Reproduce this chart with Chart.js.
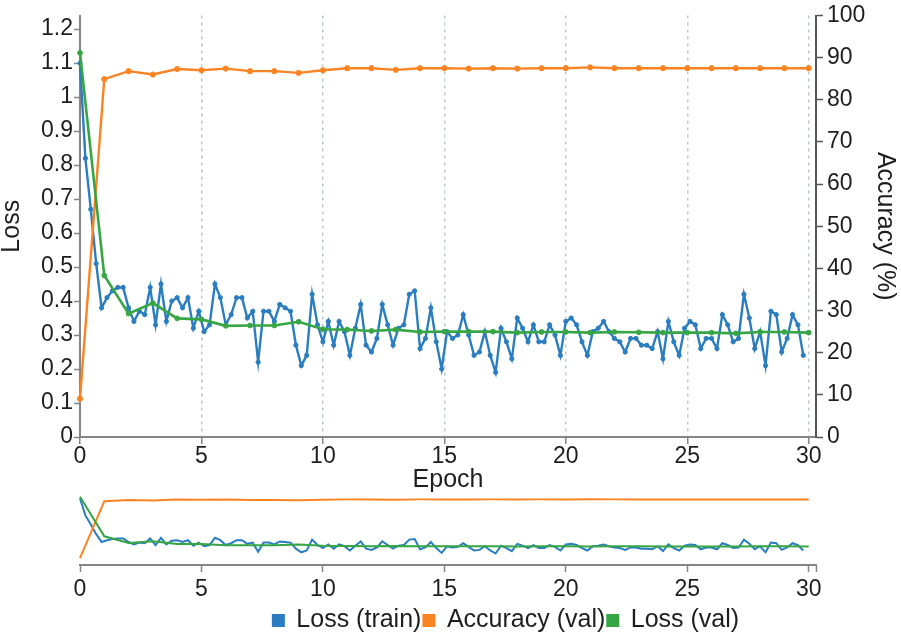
<!DOCTYPE html>
<html>
<head>
<meta charset="utf-8">
<title>Training curves</title>
<script src="https://cdn.jsdelivr.net/npm/chart.js@4.4.1/dist/chart.umd.min.js"></script>
<style>
  html, body { margin: 0; padding: 0; background: #fff; }
  #mainBox { position: absolute; left: 0; top: 0; width: 901px; height: 500px; }
  #navBox { position: absolute; left: 0; top: 480px; width: 901px; height: 163px; }
</style>
</head>
<body>
<div id="mainBox"><canvas id="mainChart"></canvas></div>
<div id="navBox"><canvas id="navChart"></canvas></div>
<script>
// values
var epochs = [0, 1, 2, 3, 4, 5, 6, 7, 8, 9, 10, 11, 12, 13, 14, 15, 16, 17, 18, 19, 20,
              21, 22, 23, 24, 25, 26, 27, 28, 29, 30];

var valAccuracy = [9.1, 84.9, 86.8, 86.0, 87.3, 87.0, 87.4, 86.8, 86.8, 86.4, 87.0,
                   87.5, 87.5, 87.1, 87.5, 87.5, 87.4, 87.5, 87.4, 87.5, 87.5,
                   87.7, 87.5, 87.5, 87.5, 87.5, 87.5, 87.5, 87.5, 87.5, 87.5];

var valLoss = [1.13, 0.475, 0.363, 0.394, 0.349, 0.346, 0.327, 0.328, 0.328, 0.339, 0.317,
               0.316, 0.312, 0.316, 0.309, 0.31, 0.31, 0.31, 0.307, 0.309, 0.309,
               0.307, 0.309, 0.308, 0.307, 0.307, 0.307, 0.305, 0.309, 0.309, 0.307];

// train loss is logged 135 times over the 30 epochs
var trainStep = 30 / 135;
var trainLoss = [
  1.10, 0.82, 0.67, 0.51, 0.38, 0.41, 0.43, 0.44, 0.44, 0.38,
  0.34, 0.37, 0.36, 0.44, 0.33, 0.45, 0.34, 0.40, 0.41, 0.38,
  0.41, 0.32, 0.37, 0.31, 0.33, 0.45, 0.41, 0.33, 0.36, 0.41,
  0.41, 0.35, 0.37, 0.22, 0.37, 0.37, 0.34, 0.39, 0.38, 0.37,
  0.27, 0.21, 0.24, 0.42, 0.33, 0.28, 0.34, 0.27, 0.34, 0.31,
  0.24, 0.32, 0.39, 0.27, 0.25, 0.29, 0.39, 0.33, 0.27, 0.32,
  0.33, 0.42, 0.43, 0.26, 0.29, 0.38, 0.28, 0.20, 0.31, 0.29,
  0.30, 0.36, 0.30, 0.24, 0.25, 0.31, 0.24, 0.19, 0.32, 0.28,
  0.23, 0.35, 0.32, 0.28, 0.33, 0.28, 0.28, 0.33, 0.30, 0.24,
  0.34, 0.35, 0.33, 0.28, 0.24, 0.31, 0.32, 0.34, 0.31, 0.29,
  0.28, 0.25, 0.29, 0.29, 0.27, 0.27, 0.26, 0.31, 0.23, 0.34,
  0.28, 0.24, 0.32, 0.34, 0.33, 0.26, 0.29, 0.29, 0.26, 0.36,
  0.33, 0.28, 0.29, 0.42, 0.35, 0.26, 0.31, 0.21, 0.37, 0.36,
  0.25, 0.29, 0.36, 0.33, 0.24
];

var xTicks = [0, 5, 10, 15, 20, 25, 30];
var xTickLabels = ['0', '5', '10', '15', '20', '25', '30'];
var lossTicks = [0, 0.1, 0.2, 0.3, 0.4, 0.5, 0.6, 0.7, 0.8, 0.9, 1, 1.1, 1.2];
var lossTickLabels = ['0', '0.1', '0.2', '0.3', '0.4', '0.5', '0.6', '0.7', '0.8', '0.9', '1', '1.1', '1.2'];
var accTicks = [0, 10, 20, 30, 40, 50, 60, 70, 80, 90, 100];
var accTickLabels = ['0', '10', '20', '30', '40', '50', '60', '70', '80', '90', '100'];

var xMax = 30.3;
var lossMax = 1.24;
var accMax = 100;

var BLUE = '#2a7dbf';
var ORANGE = '#fa8424';
var GREEN = '#36a644';
var AXIS = '#858585';
var TEXT = '#1e1e1e';
var FONT = "'Liberation Sans', Arial, sans-serif";

var tickFont = { family: FONT, size: 23, lineHeight: 1 };
var titleFont = { family: FONT, size: 25, lineHeight: 1 };

var trainPoints = trainLoss.map(function (v, i) { return { x: i * trainStep, y: v }; });
var accPoints = epochs.map(function (e, i) { return { x: e, y: valAccuracy[i] }; });
var valPoints = epochs.map(function (e, i) { return { x: e, y: valLoss[i] }; });

function setTicks(values) {
    return function (scale) {
        scale.ticks = values.map(function (v) { return { value: v }; });
    };
}

function makeDatasets(withPoints) {
    return [{
        label: 'Loss (train)',
        data: trainPoints,
        yAxisID: 'yLoss',
        borderColor: BLUE,
        backgroundColor: BLUE,
        borderWidth: withPoints ? 2.4 : 2,
        pointRadius: withPoints ? 2.1 : 0,
        pointBorderWidth: 1,
        clip: false,
        order: 3
    }, {
        label: 'Accuracy (val)',
        data: accPoints,
        yAxisID: 'yAcc',
        borderColor: ORANGE,
        backgroundColor: ORANGE,
        borderWidth: withPoints ? 2.4 : 2,
        pointRadius: withPoints ? 2.6 : 0,
        pointBorderWidth: 1,
        clip: false,
        order: 2
    }, {
        label: 'Loss (val)',
        data: valPoints,
        yAxisID: 'yLoss',
        borderColor: GREEN,
        backgroundColor: GREEN,
        borderWidth: withPoints ? 2.6 : 2,
        pointRadius: withPoints ? 2.4 : 0,
        pointBorderWidth: 1,
        clip: false,
        order: 1
    }];
}

var mainChart = new Chart(document.getElementById('mainChart'), {
    type: 'line',
    data: { datasets: makeDatasets(true) },
    options: {
        responsive: true,
        maintainAspectRatio: false,
        animation: false,
        layout: { padding: { top: 12, left: 0, right: 0, bottom: 0 } },
        plugins: {
            legend: { display: false },
            tooltip: { enabled: false }
        },
        scales: {
            x: {
                type: 'linear',
                min: 0,
                max: xMax,
                afterBuildTicks: setTicks(xTicks),
                afterFit: function (s) { s.height = 63; },
                ticks: {
                    font: tickFont, color: TEXT, padding: 1, maxRotation: 0,
                    callback: function (v, i) { return xTickLabels[i]; }
                },
                grid: { color: '#bcc7d0', lineWidth: 1.5, tickColor: AXIS, tickLength: 7, tickWidth: 1.5 },
                border: { color: AXIS, width: 2, dash: [3, 4] },
                title: { display: true, text: 'Epoch', font: titleFont, color: TEXT, padding: { top: 0, bottom: 7 } }
            },
            yLoss: {
                type: 'linear',
                position: 'left',
                min: 0,
                max: lossMax,
                afterBuildTicks: setTicks(lossTicks),
                afterFit: function (s) { s.width = 80; },
                ticks: {
                    font: tickFont, color: TEXT, padding: 1,
                    callback: function (v, i) { return lossTickLabels[i]; }
                },
                grid: { drawOnChartArea: false, tickColor: AXIS, tickLength: 6, tickWidth: 1.5 },
                border: { color: AXIS, width: 2 },
                title: { display: true, text: 'Loss', font: titleFont, color: TEXT, padding: { top: 0, bottom: 0 } }
            },
            yAcc: {
                type: 'linear',
                position: 'right',
                min: 0,
                max: accMax,
                afterBuildTicks: setTicks(accTicks),
                afterFit: function (s) { s.width = 85; },
                ticks: {
                    font: tickFont, color: TEXT, padding: 4,
                    callback: function (v, i) { return accTickLabels[i]; }
                },
                grid: { drawOnChartArea: false, tickColor: '#555', tickLength: 7, tickWidth: 1.5 },
                border: { color: '#555', width: 2 },
                title: { display: true, text: 'Accuracy (%)', font: titleFont, color: TEXT, padding: { top: 4, bottom: 0 } }
            }
        }
    }
});

// the legend sits right of the centre, under the navigator
var legendShift = {
    id: 'legendShift',
    afterLayout: function (chart) {
        chart.legend.left += 58;
        chart.legend.right += 58;
    }
};

var navChart = new Chart(document.getElementById('navChart'), {
    type: 'line',
    data: { datasets: makeDatasets(false) },
    options: {
        responsive: true,
        maintainAspectRatio: false,
        animation: false,
        layout: { padding: { top: 10, left: 80, right: 85, bottom: 0 } },
        plugins: {
            legend: {
                display: true,
                position: 'bottom',
                labels: {
                    font: { family: FONT, size: 25 },
                    color: TEXT,
                    boxWidth: 11,
                    boxHeight: 11,
                    padding: 2,
                    sort: function (a, b) { return a.datasetIndex - b.datasetIndex; }
                }
            },
            tooltip: { enabled: false }
        },
        scales: {
            x: {
                type: 'linear',
                min: 0,
                max: xMax,
                afterBuildTicks: setTicks(xTicks.concat([xMax])),
                afterFit: function (s) { s.height = 41; },
                ticks: {
                    font: tickFont, color: TEXT, padding: 6, maxRotation: 0,
                    callback: function (v, i) { return i < xTickLabels.length ? xTickLabels[i] : ''; }
                },
                grid: { drawOnChartArea: false, tickColor: AXIS, tickLength: 7, tickWidth: 1.5 },
                border: { color: AXIS, width: 2 }
            },
            yLoss: { type: 'linear', display: false, min: 0, max: lossMax },
            yAcc: { type: 'linear', display: false, min: 0, max: accMax }
        }
    },
    plugins: [legendShift]
});
</script>
</body>
</html>
